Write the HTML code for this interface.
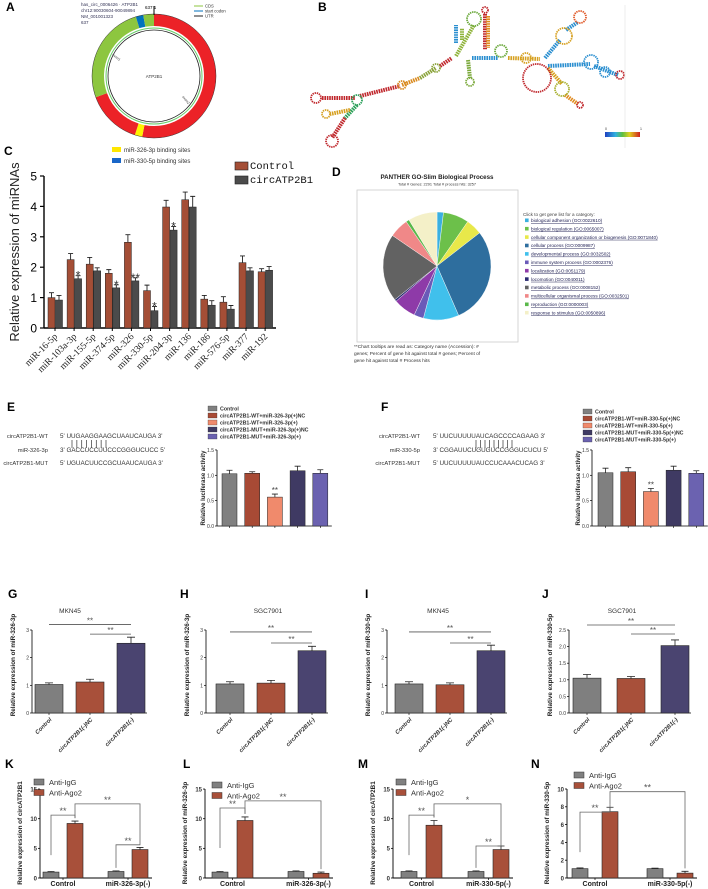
<!DOCTYPE html>
<html><head><meta charset="utf-8">
<style>
html,body{margin:0;padding:0;background:#fff;}
svg{display:block;font-family:"Liberation Sans",Arial,sans-serif;}
</style></head>
<body>
<svg id="fig" width="708" height="889" viewBox="0 0 708 889" xmlns="http://www.w3.org/2000/svg"></svg>
<script>
// ---------- DATA ----------
const cCats=['miR-16-5p','miR-103a-3p','miR-155-5p','miR-374-5p','miR-326','miR-330-5p','miR-204-3p','miR-136','miR-186','miR-576-5p','miR-377','miR-192'];
const cControl=[1.0,2.25,2.1,1.8,2.82,1.23,3.98,4.22,0.95,0.85,2.15,1.85];
const cControlErr=[0.16,0.2,0.22,0.12,0.25,0.18,0.22,0.25,0.12,0.18,0.22,0.1];
const cCirc=[0.92,1.62,1.88,1.32,1.55,0.57,3.22,3.98,0.75,0.62,1.88,1.9];
const cCircErr=[0.15,0.1,0.1,0.1,0.1,0.14,0.12,0.35,0.15,0.12,0.1,0.12];
const cSig=['','*','','*','**','*','*','','','','',''];
const cTicks=[0,1,2,3,4,5];

const pieLabels=['biological adhesion (GO:0022610)','biological regulation (GO:0065007)','cellular component organization or biogenesis (GO:0071840)','cellular process (GO:0009987)','developmental process (GO:0032502)','immune system process (GO:0002376)','localization (GO:0051179)','locomotion (GO:0040011)','metabolic process (GO:0008152)','multicellular organismal process (GO:0032501)','reproduction (GO:0000003)','response to stimulus (GO:0050896)'];
const pieValues=[2,8,5,30,11,3,7,0.6,21,6,1,9];
const pieOrder=[0,1,2,3,4,5,6,7,8,9,10,11];

const lucCats=['Control','WT+NC','WT+miR','MUT+NC','MUT+miR'];
const eValues=[1.03,1.04,0.57,1.09,1.04];
const eErr=[0.07,0.03,0.06,0.09,0.07];
const fValues=[1.05,1.07,0.68,1.1,1.04];
const fErr=[0.09,0.08,0.06,0.08,0.05];
const lucSig=['','','**','',''];
const lucTicks=[0,0.5,1.0,1.5];
const eLegend=['Control','circATP2B1-WT+miR-326-3p(+)NC','circATP2B1-WT+miR-326-3p(+)','circATP2B1-MUT+miR-326-3p(+)NC','circATP2B1-MUT+miR-326-3p(+)'];
const fLegend=['Control','circATP2B1-WT+miR-330-5p(+)NC','circATP2B1-WT+miR-330-5p(+)','circATP2B1-MUT+miR-330-5p(+)NC','circATP2B1-MUT+miR-330-5p(+)'];

const ghCats=['Control','circATP2B1(-)NC','circATP2B1(-)'];
const gValues=[1.03,1.12,2.52], gErr=[0.06,0.1,0.22];
const hValues=[1.05,1.08,2.25], hErr=[0.08,0.1,0.16];
const iValues=[1.05,1.02,2.25], iErr=[0.08,0.07,0.2];
const jValues=[1.05,1.04,2.03], jErr=[0.11,0.06,0.17];
const ghTicks=[0,1,2,3];
const jTicks=[0,0.5,1.0,1.5,2.0,2.5];
const gSigLines=[3.2,2.85], hSigLines=[2.93,2.53], iSigLines=[2.93,2.53], jSigLines=[2.65,2.38];

const kGroups=['Control','miR-326-3p(-)'];
const mGroups=['Control','miR-330-5p(-)'];
const kIgG=[1.0,1.1], kAgo=[9.2,4.8], kIgGErr=[0.1,0.1], kAgoErr=[0.4,0.35];
const lIgG=[1.0,1.1], lAgo=[9.7,0.8], lIgGErr=[0.1,0.1], lAgoErr=[0.6,0.2];
const mIgG=[1.1,1.1], mAgo=[8.9,4.8], mIgGErr=[0.1,0.1], mAgoErr=[0.8,0.6];
const nIgG=[1.05,1.05], nAgo=[7.45,0.55], nIgGErr=[0.08,0.06], nAgoErr=[0.5,0.2];
const klmTicks=[0,5,10,15];
const nTicks=[0,2,4,6,8,10];

// ---------- HELPERS ----------
const NS='http://www.w3.org/2000/svg';
const svg=document.getElementById('fig');
function el(tag,attrs,parent){const e=document.createElementNS(NS,tag);for(const k in attrs)e.setAttribute(k,attrs[k]);(parent||svg).appendChild(e);return e;}
function tx(x,y,s,attrs,parent){const a=Object.assign({x:x,y:y},attrs||{});const e=el('text',a,parent);e.textContent=s;return e;}
function grp(parent){return el('g',{},parent);}

function panelLetter(x,y,s){
  const t=tx(x,y,s,{'font-size':12,'font-weight':'bold',fill:'#000'});
  
  
}

// ---------- PANEL A ----------
(function(){
  const g=grp();
  
  
  panelLetter(6,11,'A');
  const cx=154,cy=76,r=56;
  function arc(a0,a1,col){
    const p=a=>[cx+r*Math.sin(a*Math.PI/180),cy-r*Math.cos(a*Math.PI/180)];
    const s=p(a0),e=p(a1);const large=(a1-a0)>180?1:0;
    const pa=el('path',{d:`M${s[0]},${s[1]} A${r},${r} 0 ${large} 1 ${e[0]},${e[1]}`,fill:'none',stroke:col,'stroke-width':12},g);
    
    
  }
  arc(0,191,'#ec2227');arc(191,198,'#fff200');arc(198,250,'#ec2227');arc(250,343,'#8dc63f');arc(343,350,'#0072bc');arc(350,360,'#8dc63f');
  const o=el('circle',{cx:cx,cy:cy,r:62,fill:'none',stroke:'#333','stroke-width':0.5},g);
  
  
  const c1=el('circle',{cx:cx,cy:cy,r:48,fill:'none',stroke:'#6c6','stroke-width':1},g);
  
  
  const c2=el('circle',{cx:cx,cy:cy,r:46,fill:'none',stroke:'#222','stroke-width':0.8},g);
  
  
  const tk=el('line',{x1:cx,y1:6,x2:cx,y2:15,stroke:'#000','stroke-width':1},g);
  
  
  const lines=['has_circ_0006426 · ATP2B1','chr12:90030604-90049894','NM_001001323','637'];
  lines.forEach((s,i)=>{const t=tx(81,6+i*6,s,{'font-size':4.5,fill:'#335'},g);
    
    });
  const tt=tx(145,9,'637  1',{'font-size':4.5,fill:'#000'},g);
  
  
  const leg=[['CDS','#8dc63f'],['start codon','#0072bc'],['UTR','#222']];
  leg.forEach((d,i)=>{
    const l=el('line',{x1:194,y1:6+i*5,x2:203,y2:6+i*5,stroke:d[1],'stroke-width':1},g);
    
    
    const t=tx(205,7.5+i*5,d[0],{'font-size':4.2,fill:'#333'},g);
    
    
  });
  const ct=tx(cx,78,'ATP2B1',{'font-size':4.5,'text-anchor':'middle',fill:'#333'},g);
  
  
  const e1=tx(112,55,'exon1',{'font-size':3.5,fill:'#333',transform:'rotate(40 112 55)'},g);
  
  
  const e2=tx(182,97,'exon2',{'font-size':3.5,fill:'#333',transform:'rotate(50 182 97)'},g);
  
  
  const y1=el('rect',{x:112,y:147,width:9,height:5,fill:'#ffe600'});
  
  
  const t1=tx(124,152,'miR-326-3p binding sites',{'font-size':6,fill:'#333'});
  
  
  const b1=el('rect',{x:112,y:158,width:9,height:5,fill:'#1a66c8'});
  
  
  const t2=tx(124,163,'miR-330-5p binding sites',{'font-size':6,fill:'#333'});
  
  
})();

// ---------- PANEL B ----------
(function(){
  const g=grp();
  
  
  panelLetter(318,11,'B');
  const stems=[
    [[322,98],[355,98],'#c0282d'],[[360,96],[400,86],'#c0282d'],[[402,85],[420,78],'#d98a1f'],[[420,78],[436,68],'#8aa33a'],
    [[440,66],[452,58],'#c0282d'],[[357,105],[345,118],'#2aa05a'],[[345,118],[332,138],'#c0282d'],[[350,110],[330,114],'#d6a020'],
    [[456,56],[474,25],'#8fb33a'],[[485,14],[485,50],'#c0282d'],[[488,16],[488,48],'#e08a1f'],[[456,43],[456,25],'#2b8fd0'],[[462,40],[462,28],'#8fb33a'],
    [[468,60],[470,78],'#7aa83a'],[[472,58],[498,58],'#2b8fd0'],[[508,58],[540,59],'#d6a020'],
    [[545,58],[560,40],'#2b8fd0'],[[566,30],[578,22],'#2b8fd0'],[[548,66],[590,64],'#2b8fd0'],[[594,66],[618,75],'#2b8fd0'],
    [[548,68],[562,84],'#d6a020'],[[565,95],[578,104],'#e08a1f']
  ];
  stems.forEach(s=>{
    const l=el('line',{x1:s[0][0],y1:s[0][1],x2:s[1][0],y2:s[1][1],stroke:s[2],'stroke-width':4,'stroke-dasharray':'1.6 0.8'},g);
    
    
  });
  const loops=[[316,98,5,'#c0282d'],[357,100,5,'#2aa05a'],[402,85,4,'#d98a1f'],[436,68,4,'#8aa33a'],[332,141,6,'#c0282d'],[326,114,4,'#d6a020'],
    [474,19,7,'#6aa83a'],[485,10,3,'#c0282d'],[470,82,4,'#7aa83a'],[501,51,6,'#6aa83a'],[526,58,5,'#d6a020'],
    [564,36,8,'#d6a020'],[580,17,6,'#e05a2a'],[537,78,14,'#c0282d'],[591,62,7,'#2b8fd0'],[605,72,5,'#2b8fd0'],[620,75,4,'#c0282d'],[562,89,7,'#a8b030'],[580,105,3,'#c0282d']];
  loops.forEach(c=>{
    const e=el('circle',{cx:c[0],cy:c[1],r:c[2],fill:'none',stroke:c[3],'stroke-width':1.8,'stroke-dasharray':'1.4 0.8'},g);
    
    
  });
  const bl=el('line',{x1:625,y1:5,x2:625,y2:148,stroke:'#eee','stroke-width':1},g);
  
  
  const defs=el('defs',{},g);
  const lg=el('linearGradient',{id:'rb',x1:0,x2:1,y1:0,y2:0},defs);
  [['0','#2040c0'],['0.3','#30b0e0'],['0.5','#60c040'],['0.7','#e0d020'],['1','#d02020']].forEach(s=>el('stop',{offset:s[0],'stop-color':s[1]},lg));
  const cb=el('rect',{x:605,y:132,width:35,height:5,fill:'url(#rb)'},g);
  
  
  const c0=tx(605,130,'0',{'font-size':3.5,fill:'#333'},g);
  
  
  const c1=tx(640,130,'1',{'font-size':3.5,fill:'#333'},g);
  
  
})();

// ---------- PANEL C ----------
(function(){
  const g=grp();
  
  
  panelLetter(4,155,'C');
  const y=v=>328-v*30.4;
  const x=i=>48+i*19.1;
  const bw=7;
  cTicks.forEach(v=>{
    const l=el('line',{x1:40,y1:y(v),x2:44,y2:y(v),stroke:'#000','stroke-width':1.2},g);
    
    
    const t=tx(37,y(v)+4.5,String(v),{'font-size':12,'text-anchor':'end',fill:'#000'},g);
    
    
  });
  const ya=el('line',{x1:44,y1:y(5),x2:44,y2:y(0),stroke:'#000','stroke-width':1.4},g);
  
  
  const xa=el('line',{x1:44,y1:y(0),x2:276,y2:y(0),stroke:'#000','stroke-width':1.4},g);
  
  
  const yt=tx(19,252,'Relative expression of miRNAs',{'font-size':13,'text-anchor':'middle',fill:'#222',transform:'rotate(-90 19 252)'},g);
  
  
  cCats.forEach((c,i)=>{
    const pairs=[[cControl[i],cControlErr[i],'#a44e36',x(i),'bar-control'],[cCirc[i],cCircErr[i],'#4b4b4b',x(i)+bw+0.5,'bar-circatp2b1']];
    pairs.forEach(p=>{
      const r=el('rect',{x:p[3],y:y(p[0]),width:bw,height:y(0)-y(p[0]),fill:p[2],stroke:'#222','stroke-width':0.5},g);
      
      
      const e=el('path',{d:`M${p[3]+bw/2},${y(p[0])}V${y(p[0]+p[1])}M${p[3]+bw/2-2.5},${y(p[0]+p[1])}H${p[3]+bw/2+2.5}`,stroke:'#222','stroke-width':0.9,fill:'none'},g);
      
      
    });
    if(cSig[i]){
      const sx=x(i)+bw+0.5+bw/2;
      const st=tx(sx,y(cCirc[i]+cCircErr[i])+4,cSig[i],{'font-size':12,'text-anchor':'middle',fill:'#333'},g);
      
      
    }
    const cxp=x(i)+bw;
    const tk=el('line',{x1:cxp,y1:y(0),x2:cxp,y2:y(0)+3,stroke:'#000','stroke-width':1},g);
    
    
    const t=tx(cxp+3,y(0)+9,c,{'font-size':9.5,'text-anchor':'end','font-family':'Liberation Serif, serif',fill:'#222',transform:`rotate(-45 ${cxp+3} ${y(0)+9})`},g);
    
    
  });
  const leg=[['Control','#a44e36',169],['circATP2B1','#4b4b4b',183]];
  leg.forEach(d=>{
    const r=el('rect',{x:235,y:d[2]-7,width:13,height:8,fill:d[1],stroke:'#222','stroke-width':0.6},g);
    
    
    const t=tx(250,d[2],d[0],{'font-size':10.5,'font-family':'Liberation Mono, monospace',fill:'#111'},g);
    
    
  });
})();

// ---------- PANEL D ----------
(function(){
  const g=grp();
  
  
  panelLetter(332,176,'D');
  const colors=['#3ab0e0','#6cc04a','#e8e84a','#2e6e9e','#40c0ec','#6a5ab8','#8e3aa8','#2a2a70','#626262','#f08888','#5ab84a','#f4f0c8'];
  const t1=tx(437,179,'PANTHER GO-Slim Biological Process',{'font-size':6.2,'font-weight':'bold','text-anchor':'middle',fill:'#222'},g);
  
  
  const t2=tx(437,185.5,'Total # Genes: 2291    Total # process hits: 3257',{'font-size':3.8,'text-anchor':'middle',fill:'#333'},g);
  
  
  const box=el('rect',{x:357,y:190,width:161,height:152,fill:'#fff',stroke:'#ccc','stroke-width':0.8},g);
  
  
  const cx=437,cy=266,r=54;
  const total=pieValues.reduce((a,b)=>a+b,0);
  let a=0;
  pieOrder.forEach(i=>{
    const a1=a+pieValues[i]/total*360;
    const p=t=>[cx+r*Math.sin(t*Math.PI/180),cy-r*Math.cos(t*Math.PI/180)];
    const s=p(a),e=p(a1);
    const sl=el('path',{d:`M${cx},${cy}L${s[0]},${s[1]}A${r},${r} 0 ${(a1-a)>180?1:0} 1 ${e[0]},${e[1]}Z`,fill:colors[i],stroke:'#fff','stroke-width':0.4},g);
    
    
    a=a1;
  });
  const h=tx(523,216,'Click to get gene list for a category:',{'font-size':4.6,fill:'#444'},g);
  
  
  pieLabels.forEach((s,i)=>{
    const yy=222+i*8.4;
    const r2=el('rect',{x:525,y:yy-3.5,width:3.6,height:3.6,fill:colors[i]},g);
    
    
    const t=tx(531,yy,s,{'font-size':4.7,fill:'#225','text-decoration':'underline'},g);
    
    
  });
  ['**Chart tooltips are read as: Category name (Accession): #','genes; Percent of gene hit against total # genes; Percent of','gene hit against total # Process hits'].forEach((s,i)=>{
    const t=tx(354,348+i*7,s,{'font-size':4.8,fill:'#333'},g);
    
    
  });
})();

// ---------- PANELS E/F ----------
function sequences(letter,lx,sx,lines,seqs,bx0,bx1,nb){
  const g=grp();
  
  
  const ys=[438,452,465];
  lines.forEach((s,i)=>{
    const t=tx(lx,ys[i],s,{'font-size':5.8,'text-anchor':'end',fill:'#333'},g);
    
    
    const q=tx(sx,ys[i],seqs[i],{'font-size':6.3,fill:'#333','xml:space':'preserve'},g);
    
    
  });
  for(let k=0;k<nb;k++){
    const xx=bx0+k*(bx1-bx0)/(nb-1);
    const l=el('line',{x1:xx,y1:440,x2:xx,y2:448,stroke:'#333','stroke-width':0.7},g);
    
    
  }
}
sequences('E',48,60,['circATP2B1-WT','miR-326-3p','circATP2B1-MUT'],["5'  UUGAAGGAAGCUAAUCAUGA   3'","3'  GACCUCCUUCCCGGGUCUCC  5'","5'  UGUACUUCCGCUAAUCAUGA   3'"],72,106,8);
sequences('F',420,433,['circATP2B1-WT','miR-330-5p','circATP2B1-MUT'],["5'  UUCUUUUUAUCAGCCCCAGAAG  3'","3'  CGGAUUCUGUGUCCGGGUCUCU  5'","5'  UUCUUUUUAUCCUCAAACUCAG  3'"],476,512,9);
panelLetter(7,411,'E');
panelLetter(381,411,'F');

function lucChart(name,axisX,barX0,legX,legY0,values,errs,legend){
  const g=grp();
  
  
  const colors=['#808080','#a84a35','#f08a6c','#3f3a63','#6b62b0'];
  const y=v=>526-v*50.7;
  const x=i=>barX0+i*22.7;
  const bw=15;
  legend.forEach((s,i)=>{
    const yy=legY0+i*7;
    const r=el('rect',{x:legX,y:yy,width:9,height:5,fill:colors[i],stroke:'#333','stroke-width':0.3},g);
    
    
    const t=tx(legX+12,yy+4.5,s,{'font-size':5.3,'font-weight':'bold',fill:'#333'},g);
    
    
  });
  lucTicks.forEach(v=>{
    const l=el('line',{x1:axisX-2,y1:y(v),x2:axisX,y2:y(v),stroke:'#000','stroke-width':0.7},g);
    
    
    const t=tx(axisX-3,y(v)+2,v.toFixed(1),{'font-size':5,'text-anchor':'end',fill:'#333'},g);
    
    
  });
  const ya=el('line',{x1:axisX,y1:y(1.5),x2:axisX,y2:y(0),stroke:'#000','stroke-width':0.8},g);
  
  
  const xa=el('line',{x1:axisX,y1:y(0),x2:x(4)+bw+4,y2:y(0),stroke:'#000','stroke-width':0.8},g);
  
  
  const yt=tx(axisX-12,488,'Relative luciferase activity',{'font-size':6,'font-weight':'bold','text-anchor':'middle',fill:'#222',transform:`rotate(-90 ${axisX-12} 488)`},g);
  
  
  values.forEach((v,i)=>{
    const r=el('rect',{x:x(i),y:y(v),width:bw,height:y(0)-y(v),fill:colors[i],stroke:'#222','stroke-width':0.5},g);
    
    
    const cxp=x(i)+bw/2;
    const e=el('path',{d:`M${cxp},${y(v)}V${y(v+errs[i])}M${cxp-3},${y(v+errs[i])}H${cxp+3}`,stroke:'#222','stroke-width':0.8,fill:'none'},g);
    
    
    const tk=el('line',{x1:cxp,y1:y(0),x2:cxp,y2:y(0)+2,stroke:'#000','stroke-width':0.6},g);
    
    
    if(lucSig[i]){
      const st=tx(cxp,y(v+errs[i])-1,lucSig[i],{'font-size':8,'text-anchor':'middle',fill:'#444'},g);
      
      
    }
  });
}
lucChart('panel-e-luciferase-chart',217,222,208,406,eValues,eErr,eLegend);
lucChart('panel-f-luciferase-chart',592,598,583,409,fValues,fErr,fLegend);

// ---------- PANELS G-J ----------
function expChart(name,title,titleX,axisX,barX0,pitch,unit,ticks,tickFmt,values,errs,sigLines,ytitle){
  const g=grp();
  
  
  const colors=['#7f7f7f','#a8503a','#4a4470'];
  const y=v=>713-v*unit;
  const x=i=>barX0+i*pitch;
  const bw=28;
  const tt=tx(titleX,613,title,{'font-size':6.5,'text-anchor':'middle',fill:'#333'},g);
  
  
  ticks.forEach(v=>{
    const l=el('line',{x1:axisX-2,y1:y(v),x2:axisX,y2:y(v),stroke:'#000','stroke-width':0.7},g);
    
    
    const t=tx(axisX-3,y(v)+2,tickFmt(v),{'font-size':5,'text-anchor':'end',fill:'#333'},g);
    
    
  });
  const top=ticks[ticks.length-1];
  const ya=el('line',{x1:axisX,y1:y(top),x2:axisX,y2:y(0),stroke:'#000','stroke-width':0.8},g);
  
  
  const xa=el('line',{x1:axisX,y1:y(0),x2:x(2)+bw+2,y2:y(0),stroke:'#000','stroke-width':0.8},g);
  
  
  const yx=axisX-17;
  const yt=tx(yx,665,ytitle,{'font-size':6.3,'font-weight':'bold','text-anchor':'middle',fill:'#222',transform:`rotate(-90 ${yx} 665)`},g);
  
  
  values.forEach((v,i)=>{
    const r=el('rect',{x:x(i),y:y(v),width:bw,height:y(0)-y(v),fill:colors[i],stroke:'#222','stroke-width':0.6},g);
    
    
    const cxp=x(i)+bw/2;
    const e=el('path',{d:`M${cxp},${y(v)}V${y(v+errs[i])}M${cxp-4},${y(v+errs[i])}H${cxp+4}`,stroke:'#222','stroke-width':0.8,fill:'none'},g);
    
    
    const tk=el('line',{x1:cxp,y1:y(0),x2:cxp,y2:y(0)+2,stroke:'#000','stroke-width':0.6},g);
    
    
    const lx=cxp+3,ly=y(0)+7;
    const t=tx(lx,ly,ghCats[i],{'font-size':5.8,'font-weight':'bold','font-style':'italic','text-anchor':'end',fill:'#333',transform:`rotate(-45 ${lx} ${ly})`},g);
    
    
  });
  sigLines.forEach((v,k)=>{
    const x1=x(k)+bw/2, x2=x(2)+bw/2;
    const l=el('line',{x1:x1,y1:y(v),x2:x2,y2:y(v),stroke:'#555','stroke-width':0.8},g);
    
    
    const st=tx((x1+x2)/2,y(v)-1,'**',{'font-size':8,'text-anchor':'middle',fill:'#555'},g);
    
    
  });
}
const f0=v=>String(v), f1=v=>v.toFixed(1);
panelLetter(8,598,'G');panelLetter(180,598,'H');panelLetter(365,598,'I');panelLetter(542,598,'J');
expChart('panel-g-chart','MKN45',70,32,35,41,27.67,ghTicks,f0,gValues,gErr,gSigLines,'Relative expression of miR-326-3p');
expChart('panel-h-chart','SGC7901',268,206,216,41,27.67,ghTicks,f0,hValues,hErr,hSigLines,'Relative expression of miR-326-3p');
expChart('panel-i-chart','MKN45',438,387,395,41,27.67,ghTicks,f0,iValues,iErr,iSigLines,'Relative expression of miR-330-5p');
expChart('panel-j-chart','SGC7901',622,569,573,44,33.2,jTicks,f1,jValues,jErr,jSigLines,'Relative expression of miR-330-5p');

// ---------- PANELS K-N ----------
function ripChart(name,axisX,barX0,pitch,inner,unit,ticks,groups,igg,ago,iggErr,agoErr,brackets,ytitle,legX,legY){
  const g=grp();
  
  
  const y=v=>878-v*unit;
  const bw=16;
  const bx=(gi,s)=>barX0+gi*pitch+s*inner;
  const top=ticks[ticks.length-1];
  ticks.forEach(v=>{
    const l=el('line',{x1:axisX-2,y1:y(v),x2:axisX,y2:y(v),stroke:'#000','stroke-width':0.8},g);
    
    
    const t=tx(axisX-3,y(v)+2.3,String(v),{'font-size':6,'font-weight':'bold','text-anchor':'end',fill:'#333'},g);
    
    
  });
  const ya=el('line',{x1:axisX,y1:y(top),x2:axisX,y2:y(0),stroke:'#000','stroke-width':0.9},g);
  
  
  const xa=el('line',{x1:axisX,y1:y(0),x2:bx(1,1)+bw+4,y2:y(0),stroke:'#000','stroke-width':0.9},g);
  
  
  const yx=axisX-18;
  const yt=tx(yx,833,ytitle,{'font-size':6.3,'font-weight':'bold','text-anchor':'middle',fill:'#222',transform:`rotate(-90 ${yx} 833)`},g);
  
  
  [['Anti-IgG','#808080'],['Anti-Ago2','#a8503a']].forEach((d,i)=>{
    const r=el('rect',{x:legX,y:legY+i*10.5-4,width:10,height:6,fill:d[1],stroke:'#333','stroke-width':0.5},g);
    
    
    const t=tx(legX+15,legY+i*10.5+2,d[0],{'font-size':7.5,fill:'#333'},g);
    
    
  });
  const tops=[];
  groups.forEach((gn,gi)=>{
    [[igg[gi],iggErr[gi],'#808080',0,'bar-anti-igg'],[ago[gi],agoErr[gi],'#a8503a',1,'bar-anti-ago2']].forEach(p=>{
      const xx=bx(gi,p[3]);
      const r=el('rect',{x:xx,y:y(p[0]),width:bw,height:y(0)-y(p[0]),fill:p[2],stroke:'#222','stroke-width':0.6},g);
      
      
      const cxp=xx+bw/2;
      const e=el('path',{d:`M${cxp},${y(p[0])}V${y(p[0]+p[1])}M${cxp-3.5},${y(p[0]+p[1])}H${cxp+3.5}`,stroke:'#222','stroke-width':0.8,fill:'none'},g);
      
      
      tops.push([cxp,p[0]+p[1]]);
    });
    const gc=(bx(gi,0)+bx(gi,1)+bw)/2;
    const tk=el('line',{x1:gc,y1:y(0),x2:gc,y2:y(0)+2,stroke:'#000','stroke-width':0.7},g);
    
    
    const t=tx(gc,886,gn,{'font-size':7,'font-weight':'bold','text-anchor':'middle',fill:'#222'},g);
    
    
  });
  brackets.forEach(b=>{
    const a=tops[b[0]],c=tops[b[1]];
    const yy=y(b[2]);
    const l=el('path',{d:`M${a[0]},${Math.min(y(a[1])-3,yy+40)}V${yy}H${c[0]}V${y(c[1])-3}`,stroke:'#666','stroke-width':0.8,fill:'none'},g);
    
    
    const st=tx((a[0]+c[0])/2,yy-1,b[3],{'font-size':9,'text-anchor':'middle',fill:'#555'},g);
    
    
  });
}
const kBr=[[0,1,10.6,'**'],[1,3,12.5,'**'],[2,3,5.6,'**']];
const lBr=[[0,1,11.8,'**'],[1,3,13.0,'**']];
const mBr=[[0,1,10.6,'**'],[1,3,12.5,'*'],[2,3,5.4,'**']];
const nBr=[[0,1,7.4,'**'],[1,3,9.7,'**']];
panelLetter(5,768,'K');panelLetter(183,768,'L');panelLetter(358,768,'M');panelLetter(531,768,'N');
ripChart('panel-k-chart',40,43,65,24,5.93,klmTicks,kGroups,kIgG,kAgo,kIgGErr,kAgoErr,kBr,'Relative expression of circATP2B1',34,783);
ripChart('panel-l-chart',205,212,76,25,5.93,klmTicks,kGroups,lIgG,lAgo,lIgGErr,lAgoErr,lBr,'Relative expression of miR-326-3p',212,786);
ripChart('panel-m-chart',393,401,67,25,5.93,klmTicks,mGroups,mIgG,mAgo,mIgGErr,mAgoErr,mBr,'Relative expression of circATP2B1',396,783);
ripChart('panel-n-chart',567,572,75,30,8.9,nTicks,mGroups,nIgG,nAgo,nIgGErr,nAgoErr,nBr,'Relative expression of miR-330-5p',574,776);
</script>
</body></html>
